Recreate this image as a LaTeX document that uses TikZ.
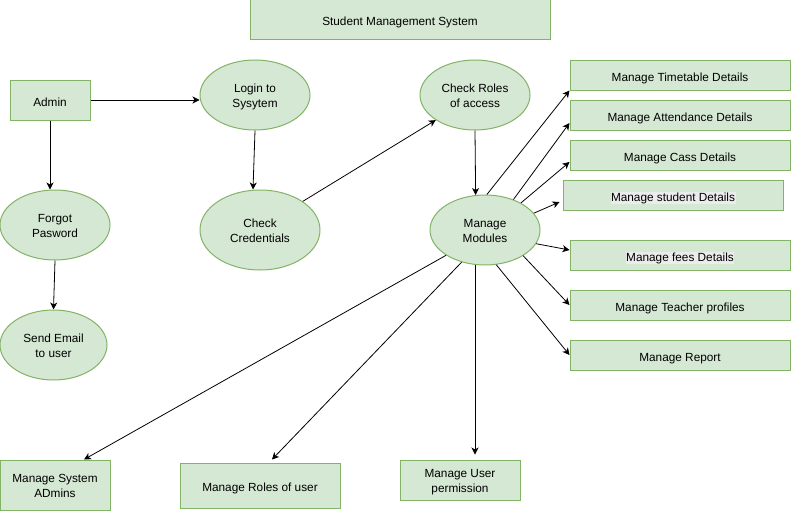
\documentclass[tikz,border=0pt]{standalone}
\usepackage{fontspec}
\setmainfont{Liberation Sans}
\usepackage{tikz}
\usetikzlibrary{calc}
\usetikzlibrary{shapes}
\usetikzlibrary{arrows.meta}
\definecolor{boxfill}{HTML}{D5E8D4}
\definecolor{boxline}{HTML}{82B366}
\definecolor{hlgray}{HTML}{ECECEC}
\newcommand{\hltext}[1]{{\setlength{\fboxsep}{0.5pt}\colorbox{hlgray}{#1}}}
\tikzset{
  oneline/.style={text height=12pt, text depth=0pt},
  twoline/.style={text height=25pt, text depth=0pt},
  box/.style={draw=boxline, fill=boxfill, line width=1pt, inner sep=0pt, oneline, align=center, font=\fontsize{11.8}{15}\selectfont},
  oval/.style={ellipse, draw=boxline, fill=boxfill, line width=1pt, inner sep=0pt, twoline, align=center, font=\fontsize{11.8}{15}\selectfont},
  arr/.style={-{Stealth[length=7pt,width=7pt,inset=2pt]}, line width=0.8pt}
}

\begin{document}
\begin{tikzpicture}[x=1pt,y=-1pt]
    \useasboundingbox (0,0) rectangle (791,511);

    %nodes
    \node[box, minimum width=300, minimum height=40] (title) at (400,20) {Student Management System};
    \node[box, minimum width=80, minimum height=40] (admin) at (50,100) {Admin};
    \node[oval, minimum width=110, minimum height=70] (login) at (255,95) {Login to\\Sysytem};
    \node[oval, minimum width=110, minimum height=70] (forgot) at (55,225) {Forgot\\Pasword};
    \node[oval, minimum width=107, minimum height=70] (email) at (53.5,345) {Send Email\\to user};
    \node[oval, minimum width=120, minimum height=80] (cred) at (260,230) {Check\\Credentials};
    \node[oval, minimum width=110, minimum height=70] (roles) at (475,95) {Check Roles\\of access};
    \node[oval, minimum width=110, minimum height=70] (modules) at (485,230) {Manage\\Modules};

    % right column
    \node[box, minimum width=220, minimum height=30] (timetable) at (680,75) {Manage Timetable Details};
    \node[box, minimum width=220, minimum height=30] (attend) at (680,115) {Manage Attendance Details};
    \node[box, minimum width=220, minimum height=30] (cass) at (680,155) {Manage Cass Details};
    \node[box, minimum width=220, minimum height=30] (student) at (673,195) {\hltext{Manage student Details}};
    \node[box, minimum width=220, minimum height=30] (fees) at (680,255) {\hltext{Manage fees Details}};
    \node[box, minimum width=220, minimum height=30] (teacher) at (680,305) {Manage Teacher profiles};
    \node[box, minimum width=220, minimum height=30] (report) at (680,355) {Manage Report};

    % bottom row
    \node[box, twoline, minimum width=110, minimum height=50] (sysadm) at (55,485) {Manage System\\ADmins};
    \node[box, minimum width=160, minimum height=45] (userroles) at (260,485.5) {Manage Roles of user};
    \node[box, twoline, minimum width=120, minimum height=40] (perm) at (460,480) {Manage User\\permission};

    %edges
    \draw[arr] (admin.east) -- (admin.east -| login.west);
    \draw[arr] (admin.south) -- (admin.south |- forgot.north);
    \draw[arr] (forgot.south) -- (email.north);
    \draw[arr] (login.south) -- ($(cred.north)+(-7,0)$);
    \draw[arr] (cred.north east) -- (roles.south west);
    \draw[arr] (roles.south) -- (modules.105);

    \draw[arr] (modules.87) -- (timetable.south west);
    \draw[arr] (modules.47) -- ($(attend.west)+(0,8)$);
    \draw[arr] (modules.37) -- ($(cass.west)+(0,7)$);
    \draw[arr] (modules.19) -- ($(student.west)+(-3,7)$);
    \draw[arr] (modules.345) -- ($(fees.west)+(0,-5)$);
    \draw[arr] (modules.326) -- (teacher.west);
    \draw[arr] (modules.288) -- (report.west);

    \draw[arr] (modules.213) -- ($(sysadm.north)+(29,0)$);
    \draw[arr] (modules.234) -- ($(userroles.north)+(12,-3)$);
    \draw[arr] (modules.254) -- ($(modules.254 |- perm.north)+(0,-5)$);
\end{tikzpicture}
\end{document}
